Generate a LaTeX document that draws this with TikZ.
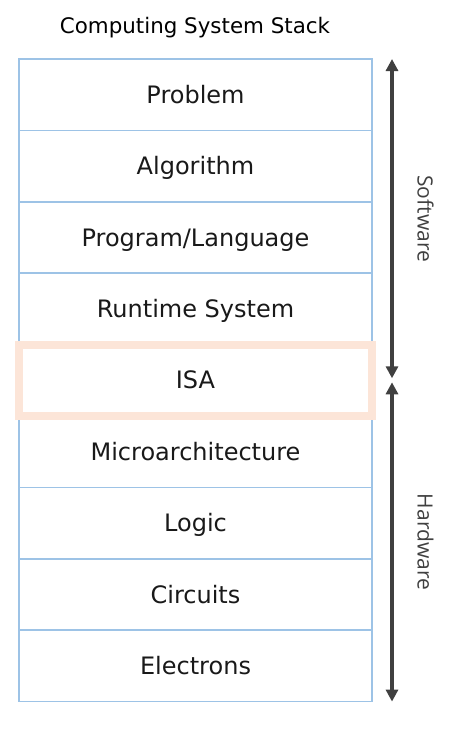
\documentclass[tikz,border=0pt]{standalone}
\usepackage{fontspec}
\setmainfont{DejaVu Sans}
\newfontfamily\sidefont{Open Sans}
\usetikzlibrary{positioning,arrows.meta,calc}
\definecolor{layerblue}{HTML}{9DC3E6}
\definecolor{isapeach}{HTML}{FCE5D8}
\definecolor{arrowgray}{HTML}{404040}
\begin{document}
\begin{tikzpicture}[x=1pt,y=-1pt,
    layer/.style={draw=layerblue,line width=1.5pt,minimum width=353pt,minimum height=71.4pt,
      inner sep=0pt,outer sep=0pt,text height=17pt,text depth=0pt,text=black!90,
      font=\fontsize{24}{28}\selectfont},
    span/.style={draw=arrowgray,line width=4pt,{Triangle[width=12pt,length=12pt]}-{Triangle[width=12pt,length=12pt]}},
    side/.style={rotate=-90,text=arrowgray,font=\sidefont\fontsize{21}{25}\selectfont}]
  \useasboundingbox (0,0) rectangle (454,729);
  \node[anchor=base] (title) at (195,33) {\fontsize{21.4}{25}\selectfont Computing System Stack};
  \node[layer,anchor=north west] (problem) at (19,59) {Problem};
  \node[layer,below=0pt of problem] (algorithm) {Algorithm};
  \node[layer,below=0pt of algorithm] (program) {Program/Language};
  \node[layer,below=0pt of program] (runtime) {Runtime System};
  \node[layer,below=0pt of runtime] (isa) {ISA};
  \node[layer,below=0pt of isa] (micro) {Microarchitecture};
  \node[layer,below=0pt of micro] (logic) {Logic};
  \node[layer,below=0pt of logic] (circuits) {Circuits};
  \node[layer,below=0pt of circuits] (electrons) {Electrons};
  \draw[isapeach,line width=8pt] (isa.north west) rectangle (isa.south east);
  \coordinate (swtop) at ([xshift=20pt]problem.north east);
  \coordinate (swbot) at ([xshift=20pt,yshift=2pt]isa.east);
  \coordinate (hwtop) at ([xshift=20pt,yshift=-2pt]isa.east);
  \coordinate (hwbot) at ([xshift=20pt]electrons.south east);
  \draw[span] (swtop) -- (swbot);
  \draw[span] (hwtop) -- (hwbot);
  \node[side] (software) at ([xshift=33.5pt]$(swtop)!0.5!(swbot)$) {Software};
  \node[side] (hardware) at ([xshift=33.5pt]$(hwtop)!0.5!(hwbot)$) {Hardware};
\end{tikzpicture}
\end{document}
